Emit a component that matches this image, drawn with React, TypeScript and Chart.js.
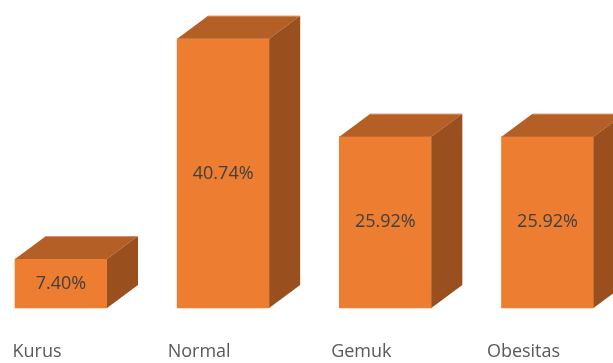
import React, { useEffect, useRef } from "react";
import { Chart, registerables } from "chart.js";

Chart.register(...registerables);

const categories: string[] = ["Kurus", "Normal", "Gemuk", "Obesitas"];
const values: number[] = [7.4, 40.74, 25.92, 25.92];
const valueLabels: string[] = ["7.40%", "40.74%", "25.92%", "25.92%"];

const FRONT = "#ED7D31";
const TOP = "#B45F26";
const SIDE = "#9A4F1E";
const DX = 31;
const DY = 23;

const box3d = {
  id: "box3d",
  afterDatasetsDraw(chart: any) {
    const ctx = chart.ctx;
    const meta = chart.getDatasetMeta(0);
    ctx.save();
    meta.data.forEach((bar: any, i: number) => {
      const L = bar.x - bar.width / 2;
      const R = bar.x + bar.width / 2;
      const T = bar.y;
      const B = bar.base;
      ctx.fillStyle = TOP;
      ctx.beginPath();
      ctx.moveTo(L, T);
      ctx.lineTo(L + DX, T - DY);
      ctx.lineTo(R + DX, T - DY);
      ctx.lineTo(R, T);
      ctx.closePath();
      ctx.fill();
      ctx.fillStyle = SIDE;
      ctx.beginPath();
      ctx.moveTo(R, T);
      ctx.lineTo(R + DX, T - DY);
      ctx.lineTo(R + DX, B - DY);
      ctx.lineTo(R, B);
      ctx.closePath();
      ctx.fill();
      ctx.strokeStyle = "rgba(244,177,131,0.6)";
      ctx.lineWidth = 1;
      ctx.beginPath();
      ctx.moveTo(L + DX, T - DY + 0.5);
      ctx.lineTo(R + DX, T - DY + 0.5);
      ctx.stroke();
      ctx.fillStyle = "#404040";
      ctx.font = "18px 'Open Sans'";
      ctx.textAlign = "center";
      ctx.textBaseline = "middle";
      ctx.fillText(valueLabels[i], bar.x, (T + B) / 2);
    });
    ctx.restore();
  },
};

export default function App() {
  const ref = useRef<HTMLCanvasElement>(null);
  useEffect(() => {
    document.body.style.margin = "0";
    const c = new Chart(ref.current!, {
      type: "bar",
      data: {
        labels: categories,
        datasets: [
          {
            data: values,
            backgroundColor: FRONT,
            borderWidth: 0,
            barThickness: 92,
            clip: false as any,
          },
        ],
      },
      options: {
        responsive: false,
        animation: false,
        layout: { padding: { left: 61, right: 65.5, top: 4, bottom: 2 } },
        plugins: { legend: { display: false }, tooltip: { enabled: false } },
        scales: {
          x: {
            offset: false,
            grid: { display: false, drawTicks: false, tickLength: 0 },
            border: { display: false },
            afterFit: (scale: any) => {
              scale.height = 53;
              scale.paddingLeft = 0;
              scale.paddingRight = 0;
            },
            ticks: {
              padding: 33,
              labelOffset: -24,
              color: "#595959",
              font: { family: "'Open Sans'", size: 18 },
              maxRotation: 0,
              autoSkip: false,
            },
          },
          y: { display: false, min: 0, max: 46 },
        },
      },
      plugins: [box3d],
    });
    return () => c.destroy();
  }, []);
  return <canvas ref={ref} width={613} height={363} style={{ display: "block" }} />;
}
